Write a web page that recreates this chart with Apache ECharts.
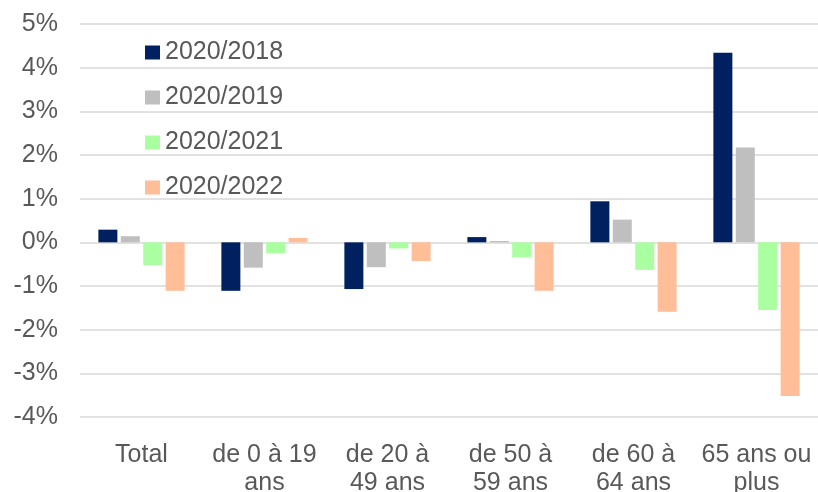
<!DOCTYPE html>
<html>
<head>
<meta charset="utf-8">
<script src="https://cdn.jsdelivr.net/npm/echarts@6/dist/echarts.min.js"></script>
<style>
  html, body { margin: 0; padding: 0; background: #fff; }
  #chart { width: 818px; height: 492px; }
</style>
</head>
<body>
<div id="chart"></div>
<script>
// categories and series (percent)
var categories = ["Total", "de 0 à 19\nans", "de 20 à\n49 ans", "de 50 à\n59 ans", "de 60 à\n64 ans", "65 ans ou\nplus"];
var seriesNames = ["2020/2018", "2020/2019", "2020/2021", "2020/2022"];
var v2018 = [0.29, -1.11, -1.07, 0.12, 0.94, 4.34];
var v2019 = [0.14, -0.58, -0.57, 0.03, 0.52, 2.17];
var v2021 = [-0.52, -0.25, -0.14, -0.34, -0.63, -1.55];
var v2022 = [-1.11, 0.10, -0.43, -1.11, -1.59, -3.52];
var colors = ["#002060", "#bfbfbf", "#aaffa0", "#ffbe98"];

var textColor = "#595959";
var font = "Liberation Sans, Arial, sans-serif";

var chart = echarts.init(document.getElementById("chart"));

function bar(name, data, color) {
  return {
    name: name,
    type: "bar",
    data: data,
    barWidth: 19,
    barGap: "18%",
    barCategoryGap: "30%",
    itemStyle: { color: color },
    animation: false
  };
}

chart.setOption({
  textStyle: { fontFamily: font },
  grid: {
    left: 80,
    right: 0,
    top: 24,
    bottom: 75,
    outerBoundsMode: "none"
  },
  legend: {
    orient: "vertical",
    left: 145,
    top: 40,
    padding: 0,
    itemWidth: 15,
    itemHeight: 14,
    itemGap: 20,
    icon: "rect",
    textStyle: { color: textColor, fontSize: 25, fontFamily: font },
    data: seriesNames
  },
  xAxis: {
    type: "category",
    data: categories,
    position: "bottom",
    axisLine: { show: false, onZero: false },
    axisTick: { show: false },
    axisLabel: {
      color: textColor,
      fontSize: 25,
      fontFamily: font,
      margin: 24,
      lineHeight: 28,
      interval: 0
    }
  },
  yAxis: {
    type: "value",
    min: -4,
    max: 5,
    interval: 1,
    axisLine: { show: false },
    axisTick: { show: false },
    splitLine: { lineStyle: { color: "#d9d9d9", width: 1.5 } },
    axisLabel: {
      color: textColor,
      fontSize: 25,
      fontFamily: font,
      margin: 22,
      formatter: function (v) { return v + "%"; }
    }
  },
  series: [
    bar(seriesNames[0], v2018, colors[0]),
    bar(seriesNames[1], v2019, colors[1]),
    bar(seriesNames[2], v2021, colors[2]),
    bar(seriesNames[3], v2022, colors[3])
  ]
});
</script>
</body>
</html>
